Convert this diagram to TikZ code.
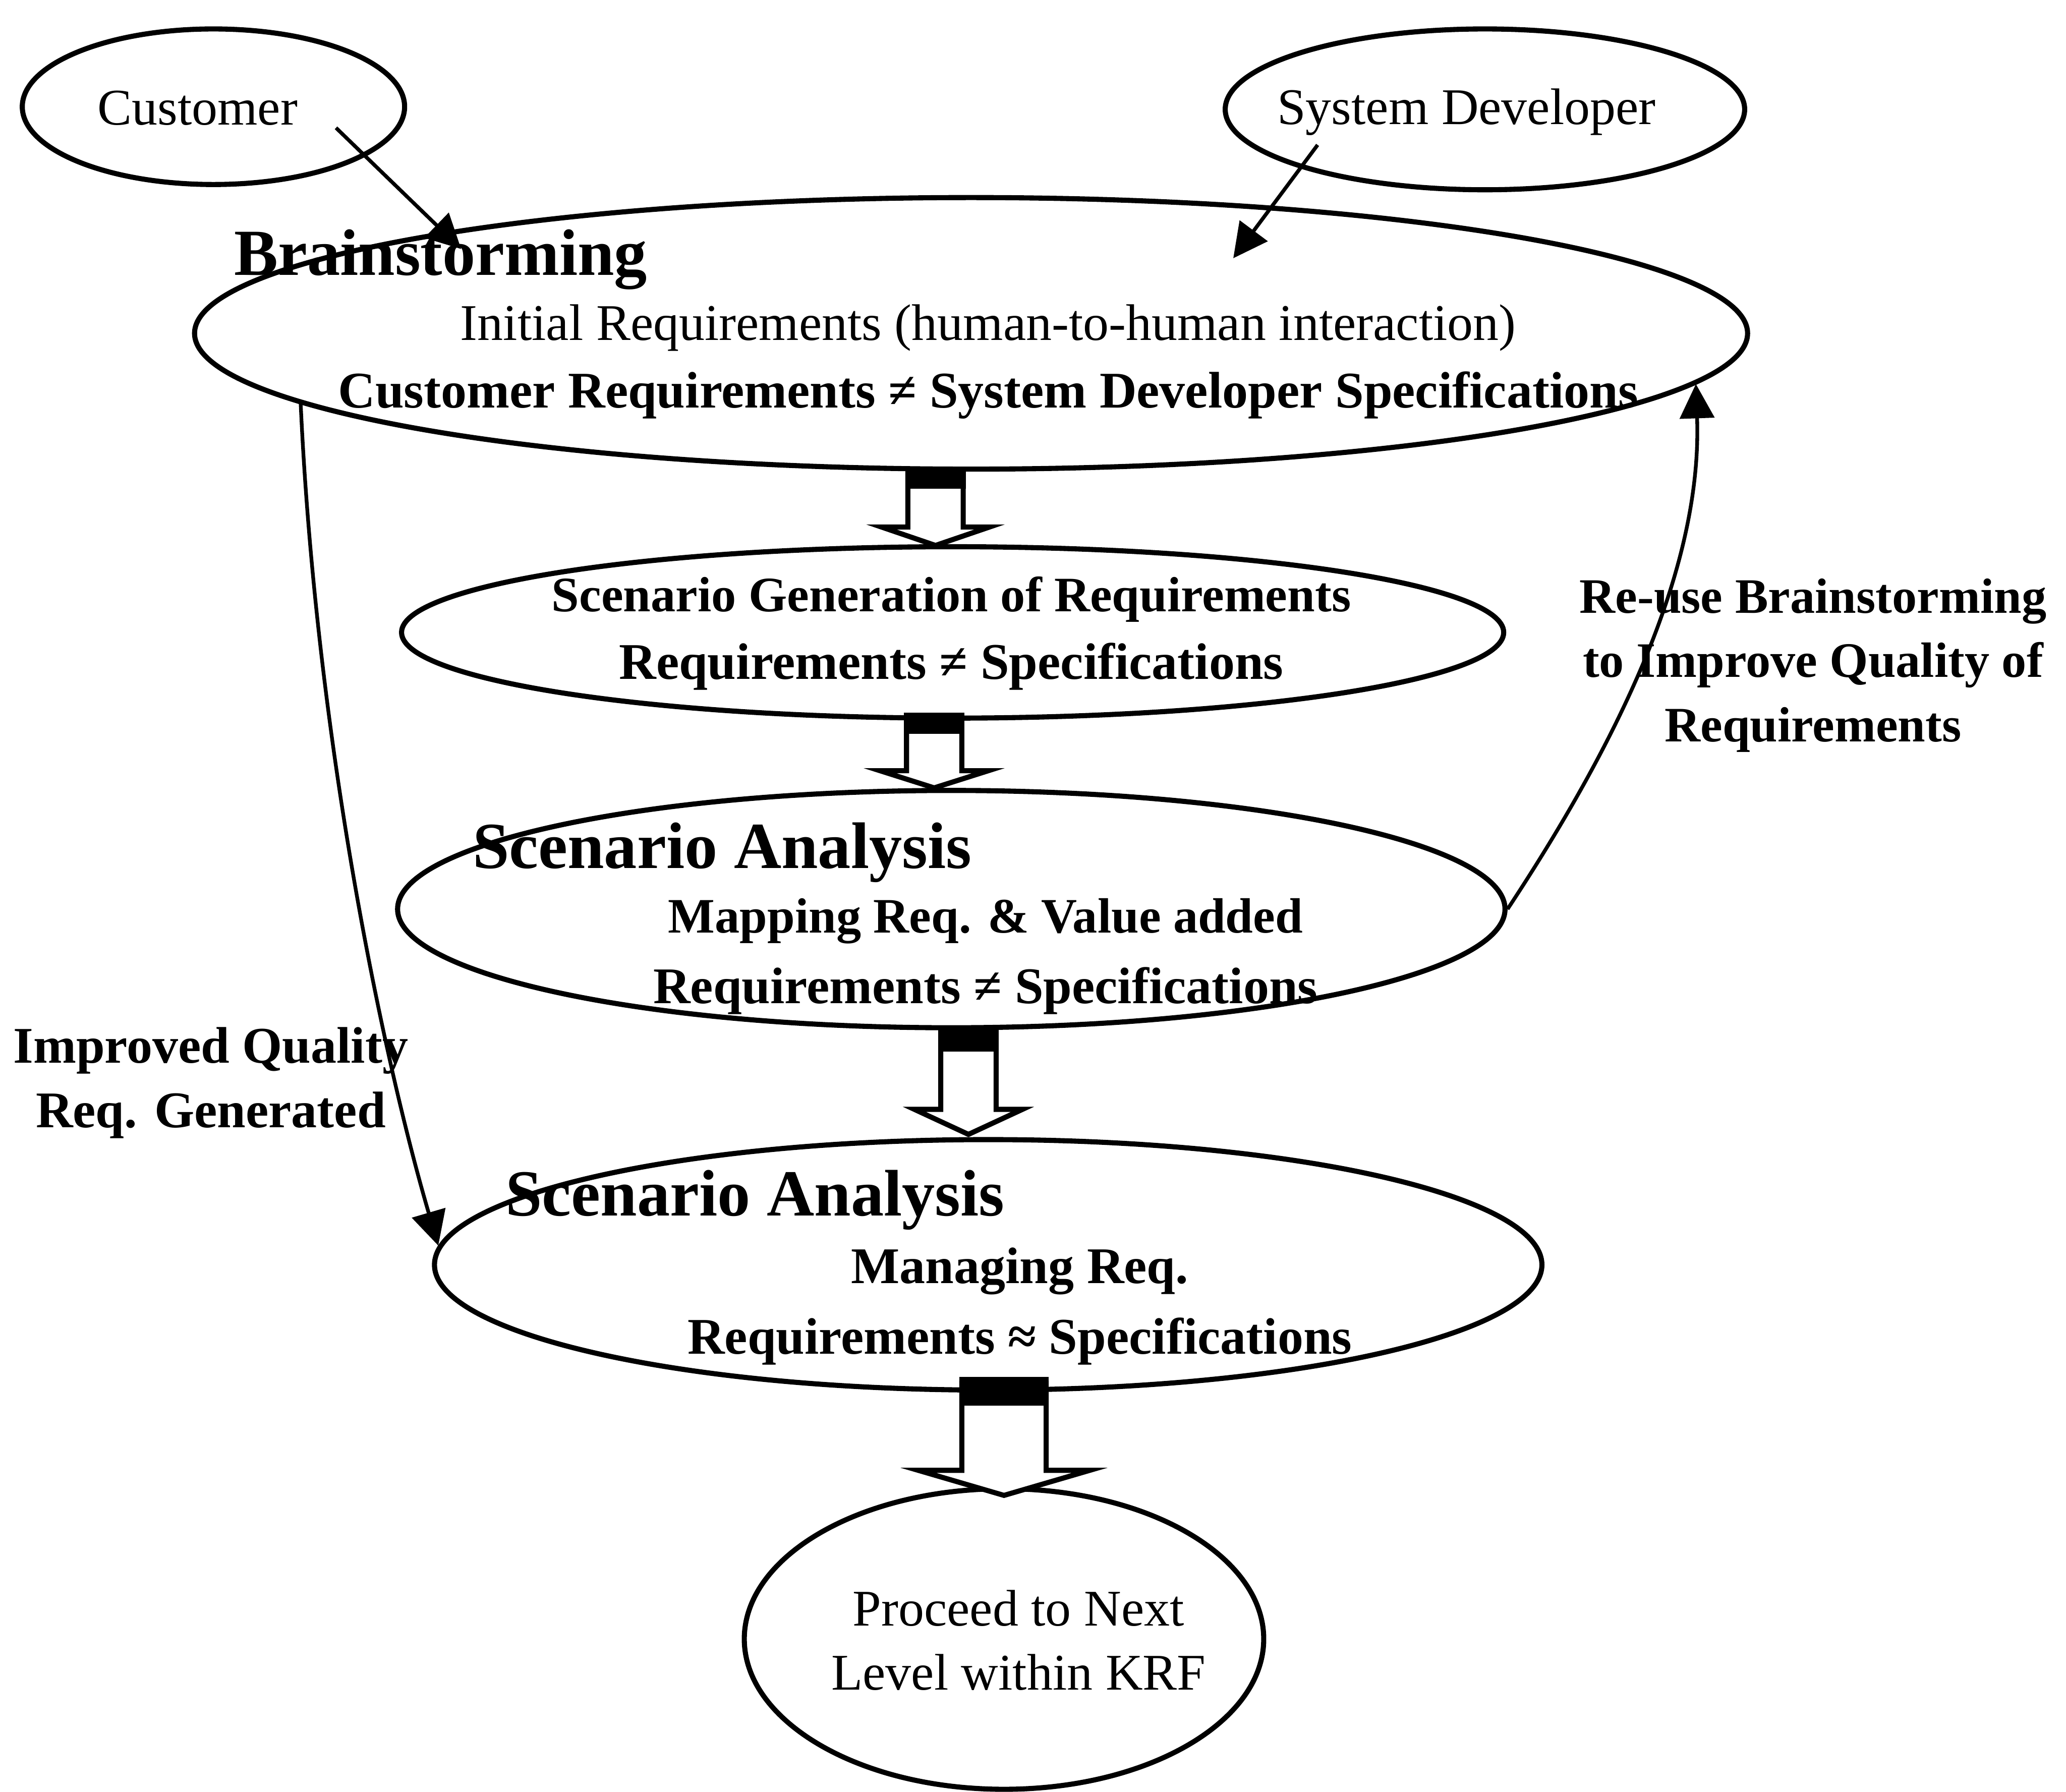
\documentclass[tikz,border=0pt]{standalone}
\usepackage{fontspec}
\setmainfont{Liberation Serif}
\usetikzlibrary{shapes.geometric,arrows.meta}

% Hollow down arrow with a solid band where it leaves the upper ellipse.
% #1 centre x, #2 top, #3 bottom of band, #4 wing y, #5 tip y, #6 shaft half width, #7 head half width
\newcommand{\fatarrow}[7]{%
  \draw[blockline] (#1-#6,#2) -- (#1-#6,#4) -- (#1-#7,#4) -- (#1,#5)
    -- (#1+#7,#4) -- (#1+#6,#4) -- (#1+#6,#2);
  \fill (#1-#6-2,#2-3) rectangle (#1+#6+2,#3);
}

\begin{document}
\begin{tikzpicture}[x=0.01cm,y=-0.01cm,
  oval/.style={draw, ellipse, line width=1.1pt, inner sep=0pt},
  txt/.style={inner sep=0pt, align=center, font=\fontsize{11.1}{13.9}\selectfont},
  btxt/.style={inner sep=0pt, align=center, font=\fontsize{11.1}{13.9}\selectfont\bfseries},
  nbtxt/.style={inner sep=0pt, align=center, font=\fontsize{10.7}{13.9}\selectfont\bfseries},
  headtxt/.style={inner sep=0pt, anchor=west, font=\fontsize{14.2}{17}\selectfont\bfseries},
  link/.style={line width=0.8pt, -{Triangle[length=0.26cm,width=0.26cm]}},
  blockline/.style={line width=1.1pt, fill=white, line join=miter}]
\useasboundingbox (0,0) rectangle (1568,1360);

% ellipses
\node[oval, minimum width=2.90cm, minimum height=1.18cm] (cust) at (162,81) {};
\node[oval, minimum width=3.94cm, minimum height=1.22cm] (dev) at (1127,83) {};
\node[oval, minimum width=11.78cm, minimum height=2.06cm] (brain) at (737,253) {};
\node[oval, minimum width=8.36cm, minimum height=1.30cm] (gen) at (723,480) {};
\node[oval, minimum width=8.40cm, minimum height=1.80cm] (sa1) at (722,690) {};
\node[oval, minimum width=8.40cm, minimum height=1.90cm] (sa2) at (750,960) {};
\node[oval, minimum width=3.94cm, minimum height=2.28cm] (next) at (762,1244) {};

% flow arrows between the stages
\fatarrow{710}{357}{371}{400}{414}{21}{41}
\fatarrow{709}{544}{557}{585}{598}{21}{41}
\fatarrow{735}{783}{798}{842}{861}{21}{41}
\fatarrow{762}{1048}{1067}{1116}{1135}{32}{65}

% connectors
\coordinate (custout) at (255,97);
\coordinate (custin) at (350,189);
\coordinate (devout) at (1000,110);
\coordinate (devin) at (936,196);
\draw[link] (custout) -- (custin);
\draw[link] (devout) -- (devin);
\draw[link] (sa1.east) .. controls (1230,560) and (1292,430) .. (brain.-4);
\draw[link] (brain.186) .. controls (240,560) and (290,800) .. (sa2.178);

% texts
\node[txt] (custtxt) at (150,82) {Customer};
\node[txt] (devtxt) at (1113,85) {System Developer};
\node[headtxt] (brainhead) at (177,197) {Brainstorming};
\node[txt] (braina) at (750,249) {Initial Requirements (human-to-human interaction)};
\node[btxt] (brainb) at (750,300) {Customer Requirements ≠ System Developer Specifications};
\node[nbtxt] (gena) at (722,455) {Scenario Generation of Requirements};
\node[btxt] (genb) at (722,506) {Requirements ≠ Specifications};
\node[headtxt] (sa1head) at (358,647) {Scenario Analysis};
\node[nbtxt] (sa1a) at (748,699) {Mapping Req. \& Value added};
\node[btxt] (sa1b) at (748,752) {Requirements ≠ Specifications};
\node[headtxt] (sa2head) at (383,911) {Scenario Analysis};
\node[btxt] (sa2a) at (774,965) {Managing Req.};
\node[btxt] (sa2b) at (774,1018) {Requirements ≈ Specifications};
\node[txt] (nexttxt) at (773,1245) {Proceed to Next\\Level within KRF};
\node[nbtxt] (reuse) at (1376,505) {Re-use Brainstorming\\to Improve Quality of\\Requirements};
\node[btxt] (improved) at (160,822) {Improved Quality\\Req. Generated};
\end{tikzpicture}
\end{document}
